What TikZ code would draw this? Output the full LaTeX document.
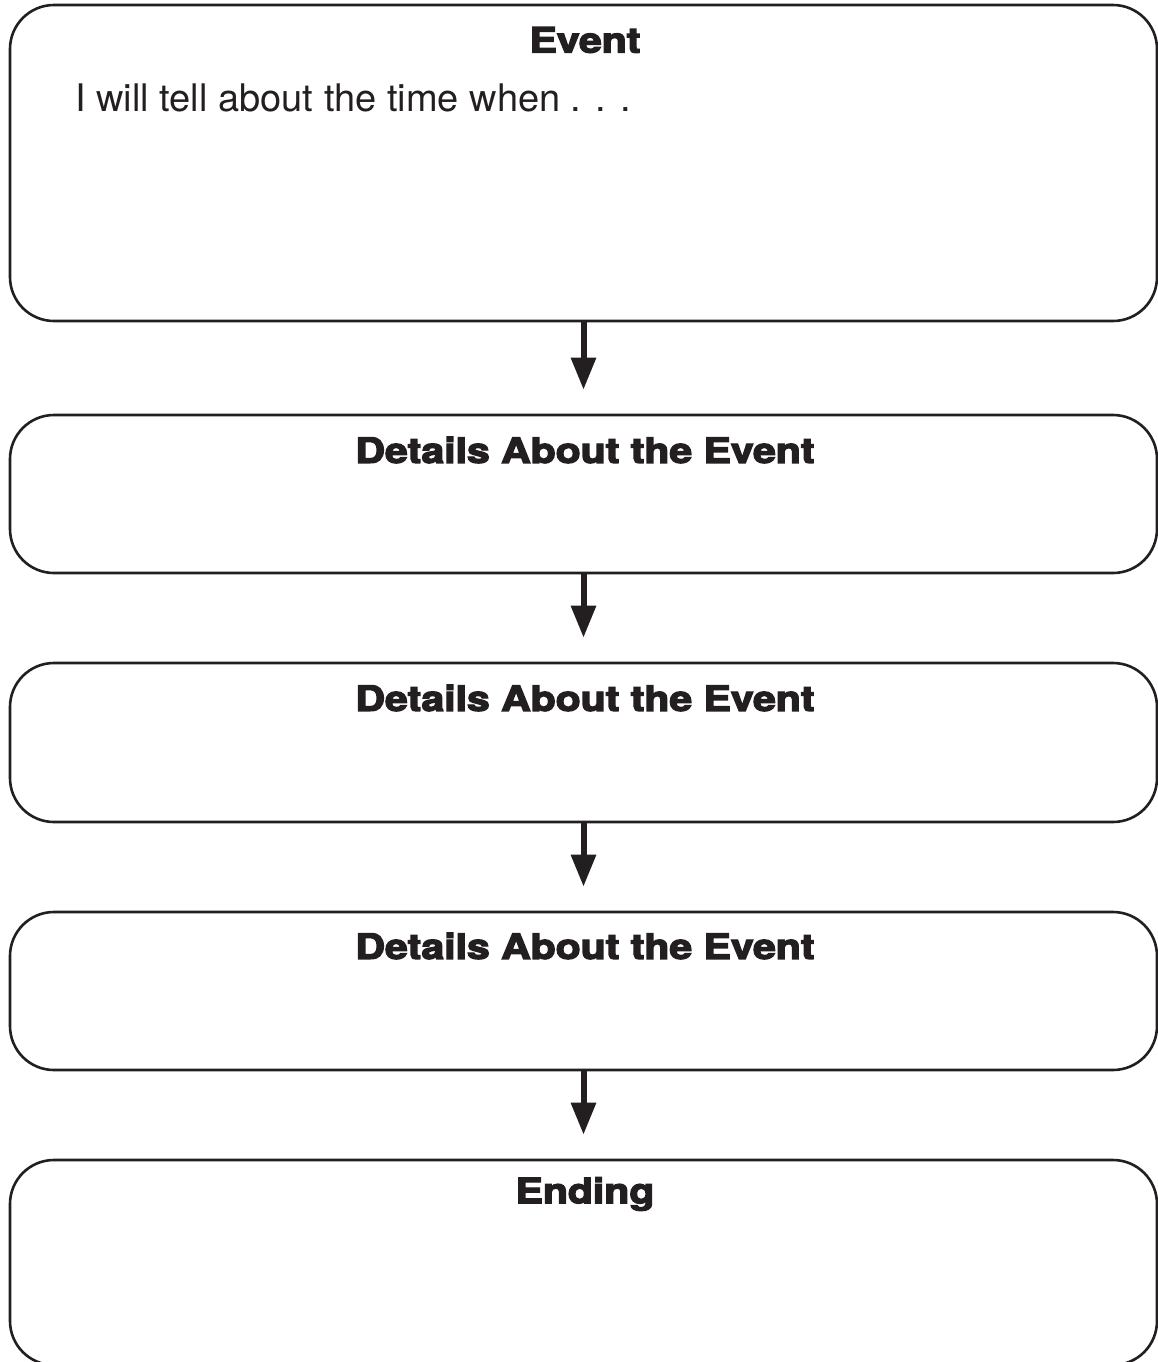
\documentclass[tikz,border=0pt]{standalone}
\usepackage{fontspec}
\setmainfont{TeX Gyre Heros}
\newfontfamily\heavy{texgyreheros-bold.otf}[FakeBold=3.5]
\usetikzlibrary{arrows.meta}
\definecolor{ink}{HTML}{231F20}
\newcommand{\widetitle}[1]{\scalebox{1.17}[1]{#1}}
\begin{document}
\begin{tikzpicture}[x=0.5pt,y=-0.5pt,
  box/.style={draw=ink,line width=1.3pt,rounded corners=22pt,minimum width=573.5pt,inner sep=0pt},
  title/.style={font=\heavy\fontsize{17.5}{20}\selectfont,text=ink,inner sep=0pt},
  flow/.style={draw=ink,line width=3pt,-{Triangle[width=12pt,length=16pt]},shorten >=12pt}]
\useasboundingbox (0,0) rectangle (1158,1362);
\node[box,minimum height=158pt] (b1) at (583.5,163) {};
\node[box,minimum height=79pt] (b2) at (583.5,494) {};
\node[box,minimum height=79.5pt] (b3) at (583.5,742.5) {};
\node[box,minimum height=79pt] (b4) at (583.5,991) {};
\node[box,minimum height=102.5pt] (b5) at (583.5,1262.5) {};
\node[title] (t1) at (585,40) {\widetitle{Event}};
\node[title] (t2) at (585,450) {\widetitle{Details About the Event}};
\node[title] (t3) at (585,698) {\widetitle{Details About the Event}};
\node[title] (t4) at (585,946) {\widetitle{Details About the Event}};
\node[title] (t5) at (585,1194) {\widetitle{Ending}};
\node[anchor=base west,inner sep=0pt,text=ink,font=\fontsize{19}{22}\selectfont] (p1) at (75,111) {I will tell about the time when . . .};
\draw[flow] (b1.south) -- (b2.north);
\draw[flow] (b2.south) -- (b3.north);
\draw[flow] (b3.south) -- (b4.north);
\draw[flow] (b4.south) -- (b5.north);
\end{tikzpicture}
\end{document}
